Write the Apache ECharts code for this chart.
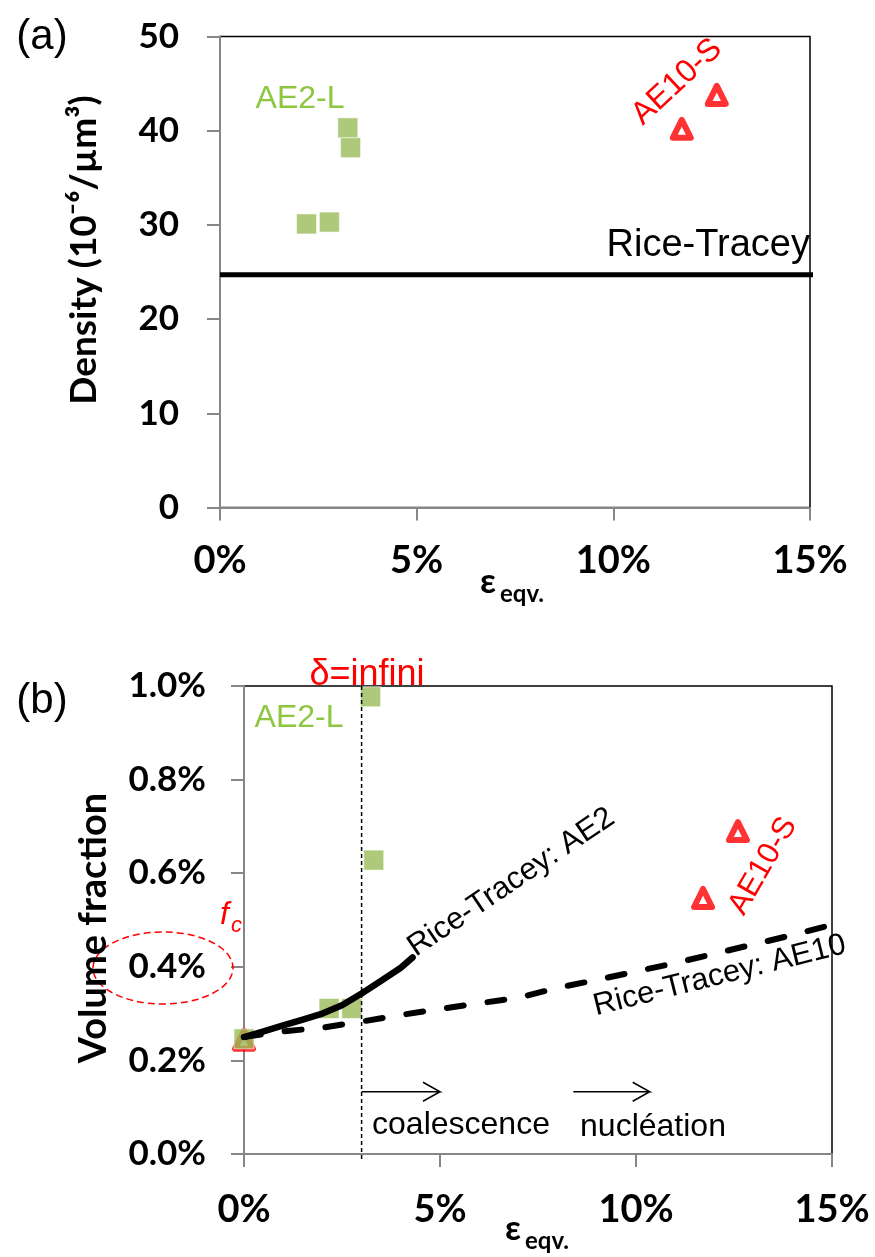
<!DOCTYPE html>
<html><head><meta charset="utf-8">
<script src="https://cdn.jsdelivr.net/npm/echarts@6/dist/echarts.min.js"></script>
<style>html,body{margin:0;padding:0;background:#fff}#c{width:875px;height:1257px}</style>
</head><body><div id="c"></div>
<script>
// ---------- data ----------
const xTicks = [0, 5, 10, 15];                 // strain, %
const densityTicks = [0, 10, 20, 30, 40, 50];   // 10^-6 / µm^3
const fractionTicks = [0, 0.2, 0.4, 0.6, 0.8, 1.0]; // %

// (a) density
const densityAE2L = [[2.20, 30.1], [2.78, 30.3], [3.25, 40.3], [3.32, 38.2]];
const densityAE10S = [[11.74, 40.2], [12.63, 43.8]];
const riceTraceyDensity = 24.7;

// (b) volume fraction (%)
const fractionAE2L = [[0, 0.246], [2.17, 0.311], [2.75, 0.311], [3.23, 0.977], [3.31, 0.628]];
const fractionAE10S = [[0, 0.244], [11.71, 0.547], [12.60, 0.690]];
const riceTraceyAE2 = [[0, 0.250], [0.5, 0.262], [1.0, 0.275], [1.5, 0.287], [2.0, 0.300], [2.5, 0.318], [3.0, 0.343], [3.5, 0.370], [4.0, 0.398], [4.3, 0.420]];
const riceTraceyAE10 = [[0, 0.250], [1, 0.262], [2, 0.270], [3, 0.283], [4, 0.297], [5, 0.310], [6, 0.322], [7, 0.334], [8, 0.355], [9, 0.372], [10, 0.390], [11, 0.408], [12, 0.428], [13, 0.448], [14, 0.468], [15, 0.490]];
const coalescenceStrain = 3;
const arrowCoalescence = [3.0, 5.0];
const arrowNucleation = [8.4, 10.35];
const arrowLevel = 0.133;

// ---------- chart ----------
const chart = echarts.init(document.getElementById('c'), null, {renderer: 'canvas'});
const GREY = '#868686';
const tickFont = {fontFamily: 'Lato', fontWeight: 'bold', color: '#000'};
const sqStyle = {color: '#9BBB59', borderColor: 'rgba(255,255,255,0.7)', borderWidth: 1};
const triStyle = {color: '#fff', borderColor: '#FF0000', borderWidth: 6, borderJoin: 'round'};

function xCfg(g, margin) {
  return {
    gridIndex: g, type: 'value', min: xTicks[0], max: xTicks[xTicks.length - 1], interval: 5,
    axisLine: {show: true, onZero: false, lineStyle: {color: GREY, width: 2}},
    axisTick: {show: true, length: 13, lineStyle: {color: GREY, width: 2}},
    splitLine: {show: false},
    axisLabel: Object.assign({fontSize: 38, margin: margin, formatter: v => v + '%'}, tickFont)
  };
}
function yCfg(g, ticks, interval, margin, fmt) {
  return {
    gridIndex: g, type: 'value', min: ticks[0], max: ticks[ticks.length - 1], interval: interval,
    axisLine: {show: true, onZero: false, lineStyle: {color: GREY, width: 2}},
    axisTick: {show: true, length: 13, lineStyle: {color: GREY, width: 2}},
    splitLine: {show: false},
    axisLabel: Object.assign({fontSize: 35, margin: margin, formatter: fmt}, tickFont)
  };
}

const option = {
  animation: false,
  backgroundColor: '#fff',
  grid: [
    {left: 220, top: 36.5, width: 590, height: 471, show: true, borderColor: '#000', borderWidth: 1.5},
    {left: 244, top: 686, width: 588, height: 468, show: true, borderColor: '#000', borderWidth: 1.5}
  ],
  xAxis: [xCfg(0, 34), xCfg(1, 37)],
  yAxis: [
    yCfg(0, densityTicks, 10, 41, v => String(v)),
    yCfg(1, fractionTicks, 0.2, 38, v => v.toFixed(1) + '%')
  ],
  series: [
    {type: 'line', xAxisIndex: 0, yAxisIndex: 0, data: [[0, riceTraceyDensity], [15.1, riceTraceyDensity]],
     symbol: 'none', clip: false, lineStyle: {color: '#000', width: 5}},
    {type: 'scatter', xAxisIndex: 0, yAxisIndex: 0, data: densityAE2L, symbol: 'rect', symbolSize: 20, itemStyle: sqStyle},
    {type: 'scatter', xAxisIndex: 0, yAxisIndex: 0, data: densityAE10S, symbol: 'triangle', symbolSize: 18, itemStyle: triStyle},

    {type: 'line', xAxisIndex: 1, yAxisIndex: 1, data: [[coalescenceStrain, 1.0], [coalescenceStrain, -0.016]],
     symbol: 'none', clip: false, lineStyle: {color: '#000', width: 1.5, type: [4, 3]}},
    {type: 'line', xAxisIndex: 1, yAxisIndex: 1, data: riceTraceyAE10, symbol: 'none', clip: false,
     lineStyle: {color: '#000', width: 6, type: [17, 24], cap: 'round'}},
    {type: 'line', xAxisIndex: 1, yAxisIndex: 1, data: riceTraceyAE2, symbol: 'none',
     lineStyle: {color: '#000', width: 6.5, cap: 'round', join: 'round'}},
    {type: 'scatter', xAxisIndex: 1, yAxisIndex: 1, data: fractionAE10S, symbol: 'triangle', symbolSize: 18, itemStyle: triStyle},
    {type: 'scatter', xAxisIndex: 1, yAxisIndex: 1, data: fractionAE2L, symbol: 'rect', symbolSize: 20, itemStyle: sqStyle}
  ]
};
chart.setOption(option);

// ---------- annotations ----------
function arrow(x0, x1, level) {
  const p0 = chart.convertToPixel({xAxisIndex: 1, yAxisIndex: 1}, [x0, level]);
  const p1 = chart.convertToPixel({xAxisIndex: 1, yAxisIndex: 1}, [x1, level]);
  return {type: 'polyline', silent: true, z: 50,
    shape: {points: [[p0[0], p0[1]], [p1[0], p1[1]], [p1[0] - 17, p1[1] - 9.5], [p1[0], p1[1]], [p1[0] - 17, p1[1] + 9.5]]},
    style: {stroke: '#000', lineWidth: 1.5, fill: null}};
}
const SANS = 'Liberation Sans';
function txt(text, x, y, size, color, opts) {
  return Object.assign({type: 'text', x: x, y: y, z: 60, silent: true,
    style: {text: text, fontFamily: SANS, fontSize: size, fill: color, align: 'center', verticalAlign: 'middle'}}, opts || {});
}
function boldText(text, x, y, size, align, rot) {
  return {type: 'text', x: x, y: y, rotation: rot || 0, z: 60, silent: true,
    style: {text: text, fontFamily: 'Lato', fontWeight: 'bold', fontSize: size, fill: '#000', align: align, verticalAlign: 'middle'}};
}
const graphics = [
  // panel letters
  txt('(a)', 42, 37, 42, '#000'),
  txt('(b)', 42, 701, 42, '#000'),
  // axis titles
  boldText('Density (10⁻⁶/µm³)', 84, 250, 37, 'center', Math.PI / 2),
  boldText('Volume fraction', 94, 928, 38, 'center', Math.PI / 2),
  boldText('ε', 480, 582, 35, 'left'),
  boldText('eqv.', 500, 594, 24, 'left'),
  boldText('ε', 505, 1229, 35, 'left'),
  boldText('eqv.', 525, 1241, 24, 'left'),
  // panel (a) labels
  txt('AE2-L', 300, 99, 32, '#8DC63F'),
  txt('AE10-S', 677, 82, 32, '#FF0000', {rotation: 43 * Math.PI / 180}),
  txt('Rice-Tracey', 810, 246, 38, '#000', {style: {text: 'Rice-Tracey', fontFamily: SANS, fontSize: 38, fill: '#000', align: 'right', verticalAlign: 'middle'}}),
  // panel (b) labels
  txt('AE2-L', 299, 718, 32, '#8DC63F'),
  txt('δ=infini', 367, 675, 36, '#FF0000'),
  txt('AE10-S', 763, 866, 31, '#FF0000', {rotation: 60 * Math.PI / 180}),
  txt('Rice-Tracey: AE2', 411, 950, 31, '#000', {rotation: 34 * Math.PI / 180,
    style: {text: 'Rice-Tracey: AE2', fontFamily: SANS, fontSize: 31, fill: '#000', align: 'left', verticalAlign: 'middle'}}),
  txt('Rice-Tracey: AE10', 594, 1007, 31, '#000', {rotation: 14 * Math.PI / 180,
    style: {text: 'Rice-Tracey: AE10', fontFamily: SANS, fontSize: 31, fill: '#000', align: 'left', verticalAlign: 'middle'}}),
  txt('coalescence', 461, 1125, 32, '#000'),
  txt('nucléation', 653, 1127, 32, '#000'),
  // f_c and dashed ellipse
  {type: 'text', x: 220, y: 915, z: 60, style: {text: 'f', fontFamily: SANS, fontStyle: 'italic', fontSize: 32, fill: '#FF0000', align: 'left', verticalAlign: 'middle'}},
  {type: 'text', x: 231, y: 926, z: 60, style: {text: 'c', fontFamily: SANS, fontStyle: 'italic', fontSize: 22, fill: '#FF0000', align: 'left', verticalAlign: 'middle'}},
  {type: 'ellipse', shape: {cx: 163, cy: 968, rx: 70, ry: 36}, style: {stroke: '#FF0000', lineWidth: 1.5, fill: null, lineDash: [7, 4]}, z: 40},
  arrow(arrowCoalescence[0], arrowCoalescence[1], arrowLevel),
  arrow(arrowNucleation[0], arrowNucleation[1], arrowLevel)
];
chart.setOption({graphic: graphics});
</script>
</body></html>
